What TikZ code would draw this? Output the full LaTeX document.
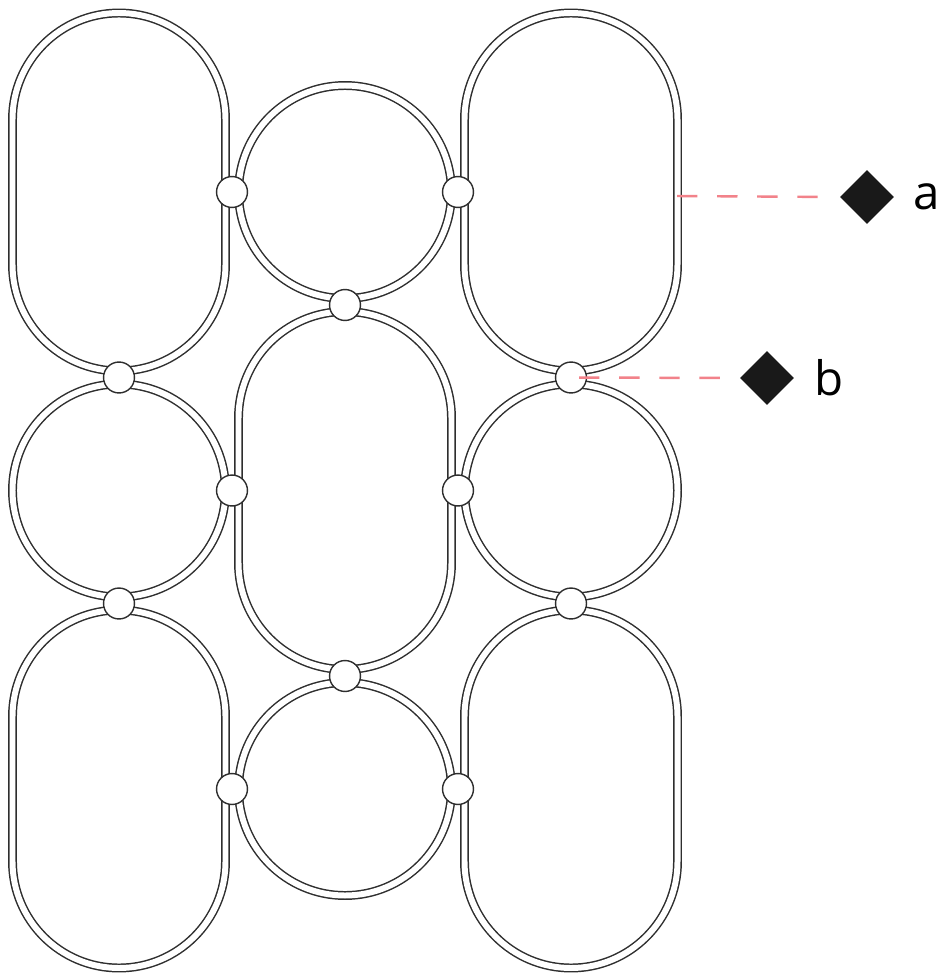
\documentclass[tikz,border=0pt]{standalone}
\usepackage{fontspec}
\setmainfont{Open Sans}
\usetikzlibrary{positioning,shapes.geometric}
\definecolor{ringgray}{HTML}{2E2E2E}
\definecolor{leadred}{HTML}{F2828A}
\tikzset{
  ring/.style={draw=ringgray,line width=0.42pt,double=white,double distance=1.7pt},
  joint/.style={circle,draw=ringgray,fill=white,line width=0.4pt,inner sep=0pt,minimum size=8.8pt},
  pin/.style={diamond,fill=black!90,inner sep=0pt,minimum size=15.4pt},
  lead/.style={draw=leadred,line width=0.7pt,dash pattern=on 5.8pt off 5.6pt},
  tag/.style={inner sep=0pt,font=\fontsize{13.5}{15}\selectfont}
}
\def\rr{106.5}
% stadium: centre x, centre y, half of the straight part
\newcommand{\pill}[3]{\draw[ring] (#1-\rr,#2-#3) arc[start angle=180,end angle=360,radius=\rr] -- (#1+\rr,#2+#3) arc[start angle=0,end angle=180,radius=\rr] -- cycle;}
\begin{document}
\begin{tikzpicture}[x=0.01cm,y=-0.01cm]
	\useasboundingbox[fill=white] (0,0) rectangle (940,973);
	% left and right columns
	\foreach \x in {119,571}{
		\pill{\x}{192}{72.5}
		\draw[ring] (\x,490.5) circle[radius=\rr];
		\pill{\x}{789}{72.5}
	}
	% middle column
	\draw[ring] (345,192) circle[radius=\rr];
	\pill{345}{490.5}{72.5}
	\draw[ring] (345,789) circle[radius=\rr];
	% joints
	\foreach \n/\x/\y in {j1/232/192,j2/458/192,j3/345/305,j4/119/377.5,j5/571/377.5,
		j6/232/490.5,j7/458/490.5,j8/119/603.5,j9/571/603.5,j10/345/676,j11/232/789,j12/458/789}
		\node[joint] (\n) at (\x,\y) {};
	% callouts
	\coordinate (rimA) at (677,196);
	\node[pin] (da) at (867,197) {};
	\node[tag,right=5pt of da] (ta) {a};
	\node[pin] (db) at (767,378) {};
	\node[tag,right=5.5pt of db] (tb) {b};
	\draw[lead,shorten >=5.1pt] (rimA) -- (da.west);
	\draw[lead,shorten <=2.3pt,shorten >=5.1pt] (j5.center) -- (db.west);
\end{tikzpicture}
\end{document}
